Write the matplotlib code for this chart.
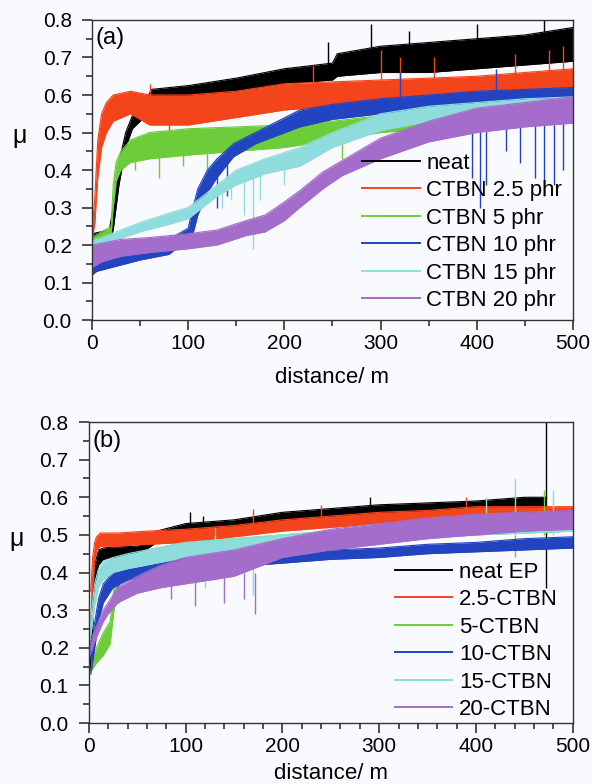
import matplotlib
matplotlib.use("Agg")
import matplotlib.pyplot as plt

plt.rcParams["font.family"] = ["Liberation Sans", "DejaVu Sans"]

colors = ["black", "#f4441c", "#6dcc3a", "#2244c0", "#8fdcdc", "#a46ccb"]

# ---- panel (a): band of each noisy trace (distance, low, high)
labels_a = ["neat", "CTBN 2.5 phr", "CTBN 5 phr", "CTBN 10 phr", "CTBN 15 phr", "CTBN 20 phr"]

neat_a_x = [0, 18, 22, 28, 35, 42, 50, 62, 100, 150, 200, 250, 255, 300, 350, 400, 450, 500]
neat_a_lo = [0.20, 0.21, 0.24, 0.36, 0.46, 0.51, 0.53, 0.58, 0.59, 0.61, 0.63, 0.64, 0.65, 0.66, 0.66, 0.67, 0.68, 0.69]
neat_a_hi = [0.23, 0.24, 0.30, 0.42, 0.50, 0.545, 0.56, 0.615, 0.625, 0.645, 0.67, 0.685, 0.71, 0.73, 0.74, 0.75, 0.76, 0.78]

c25_a_x = [0, 3, 6, 10, 15, 22, 40, 60, 100, 150, 200, 250, 300, 350, 400, 450, 500]
c25_a_lo = [0.21, 0.26, 0.38, 0.46, 0.50, 0.53, 0.55, 0.52, 0.52, 0.54, 0.56, 0.57, 0.58, 0.585, 0.59, 0.595, 0.60]
c25_a_hi = [0.23, 0.33, 0.48, 0.55, 0.58, 0.60, 0.61, 0.60, 0.60, 0.61, 0.63, 0.635, 0.64, 0.645, 0.65, 0.66, 0.67]

c5_a_x = [0, 10, 20, 22, 25, 30, 40, 60, 100, 150, 200, 250, 300, 350, 400, 450, 500]
c5_a_lo = [0.20, 0.21, 0.23, 0.30, 0.37, 0.40, 0.42, 0.43, 0.44, 0.45, 0.46, 0.48, 0.50, 0.51, 0.52, 0.53, 0.54]
c5_a_hi = [0.22, 0.235, 0.25, 0.36, 0.42, 0.45, 0.48, 0.50, 0.51, 0.515, 0.52, 0.53, 0.545, 0.555, 0.565, 0.575, 0.58]

c10_a_x = [0, 5, 20, 50, 80, 100, 105, 110, 120, 130, 147, 170, 216, 250, 300, 350, 400, 450, 500]
c10_a_lo = [0.12, 0.13, 0.14, 0.16, 0.175, 0.215, 0.23, 0.28, 0.34, 0.38, 0.435, 0.47, 0.515, 0.535, 0.55, 0.565, 0.58, 0.585, 0.59]
c10_a_hi = [0.17, 0.18, 0.19, 0.20, 0.215, 0.245, 0.30, 0.35, 0.40, 0.43, 0.47, 0.50, 0.56, 0.575, 0.59, 0.60, 0.61, 0.615, 0.62]

c15_a_x = [0, 20, 50, 80, 100, 110, 130, 150, 180, 216, 250, 300, 350, 400, 450, 500]
c15_a_lo = [0.19, 0.21, 0.235, 0.255, 0.27, 0.29, 0.33, 0.36, 0.39, 0.41, 0.46, 0.505, 0.53, 0.55, 0.56, 0.565]
c15_a_hi = [0.21, 0.23, 0.26, 0.285, 0.30, 0.32, 0.36, 0.40, 0.43, 0.46, 0.50, 0.55, 0.57, 0.58, 0.59, 0.595]

c20_a_x = [0, 10, 30, 60, 100, 130, 160, 180, 200, 216, 240, 260, 300, 350, 400, 450, 500]
c20_a_lo = [0.14, 0.155, 0.17, 0.18, 0.19, 0.20, 0.225, 0.235, 0.265, 0.30, 0.35, 0.385, 0.43, 0.475, 0.50, 0.515, 0.525]
c20_a_hi = [0.20, 0.205, 0.215, 0.22, 0.23, 0.24, 0.265, 0.28, 0.315, 0.345, 0.395, 0.425, 0.485, 0.53, 0.565, 0.58, 0.595]

# visible spikes: (distance, low, high)
spikes_a = [
    [(245, 0.68, 0.74), (290, 0.72, 0.79), (330, 0.72, 0.77), (400, 0.74, 0.79), (470, 0.75, 0.80)],
    [(60, 0.58, 0.63), (80, 0.46, 0.53), (230, 0.62, 0.68), (300, 0.63, 0.72), (320, 0.63, 0.70),
     (355, 0.63, 0.70), (440, 0.64, 0.71), (475, 0.65, 0.72), (490, 0.65, 0.73)],
    [(45, 0.40, 0.45), (70, 0.38, 0.44), (95, 0.41, 0.45), (120, 0.40, 0.45), (260, 0.43, 0.48)],
    [(130, 0.30, 0.40), (140, 0.33, 0.44), (320, 0.59, 0.66), (395, 0.38, 0.58), (403, 0.30, 0.58),
     (410, 0.36, 0.58), (420, 0.61, 0.67), (430, 0.45, 0.58), (445, 0.42, 0.58), (460, 0.38, 0.59),
     (470, 0.33, 0.59), (480, 0.36, 0.59), (490, 0.40, 0.59)],
    [(135, 0.30, 0.35), (145, 0.32, 0.37), (158, 0.28, 0.38), (167, 0.19, 0.39), (175, 0.32, 0.40),
     (200, 0.36, 0.42)],
    [],
]

# ---- panel (b)
labels_b = ["neat EP", "2.5-CTBN", "5-CTBN", "10-CTBN", "15-CTBN", "20-CTBN"]

neat_b_x = [0, 3, 6, 10, 15, 25, 50, 70, 100, 150, 200, 250, 300, 350, 400, 450, 472]
neat_b_lo = [0.11, 0.20, 0.35, 0.42, 0.435, 0.44, 0.445, 0.48, 0.495, 0.51, 0.53, 0.54, 0.55, 0.555, 0.56, 0.565, 0.565]
neat_b_hi = [0.14, 0.28, 0.42, 0.46, 0.465, 0.468, 0.47, 0.51, 0.53, 0.54, 0.56, 0.57, 0.58, 0.585, 0.59, 0.60, 0.60]

c25_b_x = [2, 4, 6, 8, 12, 30, 60, 100, 150, 200, 250, 300, 350, 400, 450, 500]
c25_b_lo = [0.28, 0.36, 0.43, 0.46, 0.47, 0.47, 0.475, 0.48, 0.495, 0.51, 0.52, 0.53, 0.54, 0.545, 0.55, 0.55]
c25_b_hi = [0.35, 0.44, 0.48, 0.495, 0.505, 0.505, 0.51, 0.515, 0.525, 0.54, 0.55, 0.56, 0.565, 0.575, 0.575, 0.575]

c5_b_x = [3, 8, 15, 22, 26, 30, 40, 60, 100, 150, 200, 250, 300, 350, 400, 450, 500]
c5_b_lo = [0.14, 0.16, 0.18, 0.21, 0.30, 0.36, 0.40, 0.42, 0.44, 0.455, 0.47, 0.48, 0.49, 0.495, 0.50, 0.505, 0.51]
c5_b_hi = [0.17, 0.20, 0.24, 0.27, 0.36, 0.41, 0.44, 0.46, 0.48, 0.49, 0.50, 0.51, 0.52, 0.525, 0.53, 0.535, 0.54]

c10_b_x = [2, 5, 10, 15, 25, 40, 60, 100, 150, 200, 250, 300, 350, 400, 450, 500]
c10_b_lo = [0.13, 0.18, 0.27, 0.32, 0.36, 0.38, 0.39, 0.40, 0.415, 0.425, 0.435, 0.44, 0.45, 0.455, 0.46, 0.465]
c10_b_hi = [0.17, 0.25, 0.33, 0.37, 0.40, 0.42, 0.43, 0.44, 0.445, 0.45, 0.46, 0.465, 0.475, 0.48, 0.49, 0.495]

c15_b_x = [0, 3, 6, 10, 15, 25, 40, 60, 100, 150, 200, 250, 300, 350, 400, 450, 500]
c15_b_lo = [0.20, 0.25, 0.31, 0.36, 0.38, 0.40, 0.41, 0.42, 0.44, 0.455, 0.465, 0.475, 0.485, 0.495, 0.50, 0.505, 0.51]
c15_b_hi = [0.23, 0.30, 0.37, 0.41, 0.43, 0.44, 0.45, 0.46, 0.48, 0.49, 0.50, 0.51, 0.52, 0.525, 0.53, 0.535, 0.54]

c20_b_x = [0, 5, 10, 15, 20, 30, 50, 75, 100, 150, 200, 250, 300, 350, 400, 450, 500]
c20_b_lo = [0.17, 0.21, 0.24, 0.27, 0.29, 0.32, 0.345, 0.36, 0.37, 0.39, 0.44, 0.46, 0.475, 0.49, 0.50, 0.51, 0.515]
c20_b_hi = [0.20, 0.24, 0.27, 0.30, 0.32, 0.36, 0.39, 0.42, 0.44, 0.46, 0.49, 0.515, 0.53, 0.545, 0.555, 0.56, 0.565]

spikes_b = [
    [(105, 0.50, 0.56), (118, 0.50, 0.55), (290, 0.56, 0.60), (472, 0.36, 0.80)],
    [(170, 0.51, 0.57), (240, 0.53, 0.58), (390, 0.55, 0.60)],
    [(130, 0.42, 0.52), (200, 0.43, 0.50), (440, 0.44, 0.50), (470, 0.50, 0.62)],
    [(30, 0.32, 0.40)],
    [(120, 0.36, 0.47), (130, 0.38, 0.50), (170, 0.34, 0.46), (410, 0.52, 0.60), (440, 0.50, 0.65),
     (480, 0.50, 0.62)],
    [(85, 0.33, 0.37), (110, 0.31, 0.38), (140, 0.32, 0.40), (160, 0.33, 0.40), (172, 0.29, 0.40)],
]

bands_a = [(neat_a_x, neat_a_lo, neat_a_hi), (c25_a_x, c25_a_lo, c25_a_hi), (c5_a_x, c5_a_lo, c5_a_hi),
           (c10_a_x, c10_a_lo, c10_a_hi), (c15_a_x, c15_a_lo, c15_a_hi), (c20_a_x, c20_a_lo, c20_a_hi)]
bands_b = [(neat_b_x, neat_b_lo, neat_b_hi), (c25_b_x, c25_b_lo, c25_b_hi), (c5_b_x, c5_b_lo, c5_b_hi),
           (c10_b_x, c10_b_lo, c10_b_hi), (c15_b_x, c15_b_lo, c15_b_hi), (c20_b_x, c20_b_lo, c20_b_hi)]

bg = "#f9fafd"
fig = plt.figure(figsize=(5.92, 7.84), dpi=100, facecolor=bg)
ax_a = fig.add_axes([0.1554, 0.5918, 0.8125, 0.3827])
ax_b = fig.add_axes([0.150, 0.0778, 0.8176, 0.3839])


def draw_panel(ax, bands, spikes, labels, tag, xminor, leg_anchor, xpad):
    ax.set_facecolor(bg)
    for i, ((x, lo, hi), sp, c, lab) in enumerate(zip(bands, spikes, colors, labels)):
        z = 2 + i
        ax.fill_between(x, lo, hi, color=c, lw=0, zorder=z)
        ax.plot(x, lo, color=c, lw=0.8, label=lab, zorder=z)
        ax.plot(x, hi, color=c, lw=0.8, zorder=z)
        if sp:
            ax.vlines([s[0] for s in sp], [s[1] for s in sp], [s[2] for s in sp], colors=c,
                      lw=1.0, zorder=z)
    ax.set_xlim(0, 500)
    ax.set_ylim(0, 0.8)
    ax.set_xticks([0, 100, 200, 300, 400, 500])
    ax.set_xticks(range(0, 501, xminor), minor=True)
    ax.set_yticks([0.0, 0.1, 0.2, 0.3, 0.4, 0.5, 0.6, 0.7, 0.8])
    ax.set_yticklabels(["0.0", "0.1", "0.2", "0.3", "0.4", "0.5", "0.6", "0.7", "0.8"])
    ax.set_yticks([i * 0.05 for i in range(17)], minor=True)
    ax.tick_params(which="both", direction="out", labelsize=15, width=1.1, color="#222222")
    ax.tick_params(which="major", length=7.5)
    ax.tick_params(which="minor", length=4)
    ax.tick_params(axis="x", which="major", pad=2.5)
    ax.tick_params(axis="y", which="major", pad=7)
    for s in ax.spines.values():
        s.set_linewidth(1.0)
        s.set_color("#333333")
        s.set_zorder(10)
    ax.set_xlabel("distance/ m", fontsize=16, labelpad=xpad)
    ax.text(-0.15, 0.49, "μ", transform=ax.get_yaxis_transform(), fontsize=18,
            ha="center", va="center")
    ax.text(0.008, 0.975, tag, transform=ax.transAxes, fontsize=17, ha="left", va="top", zorder=20)
    leg = ax.legend(loc="lower left", bbox_to_anchor=leg_anchor, frameon=False, fontsize=16,
                    handlelength=2.6, handletextpad=0.3, labelspacing=0.29, borderpad=0,
                    borderaxespad=0)
    leg.set_zorder(20)
    for h in leg.get_lines():
        h.set_linewidth(1.4)


draw_panel(ax_a, bands_a, spikes_a, labels_a, "(a)", 50, (0.561, 0.03), 10)
draw_panel(ax_b, bands_b, spikes_b, labels_b, "(b)", 20, (0.632, 0.01), 5)

fig.savefig("out.png", dpi=100, facecolor=bg)
